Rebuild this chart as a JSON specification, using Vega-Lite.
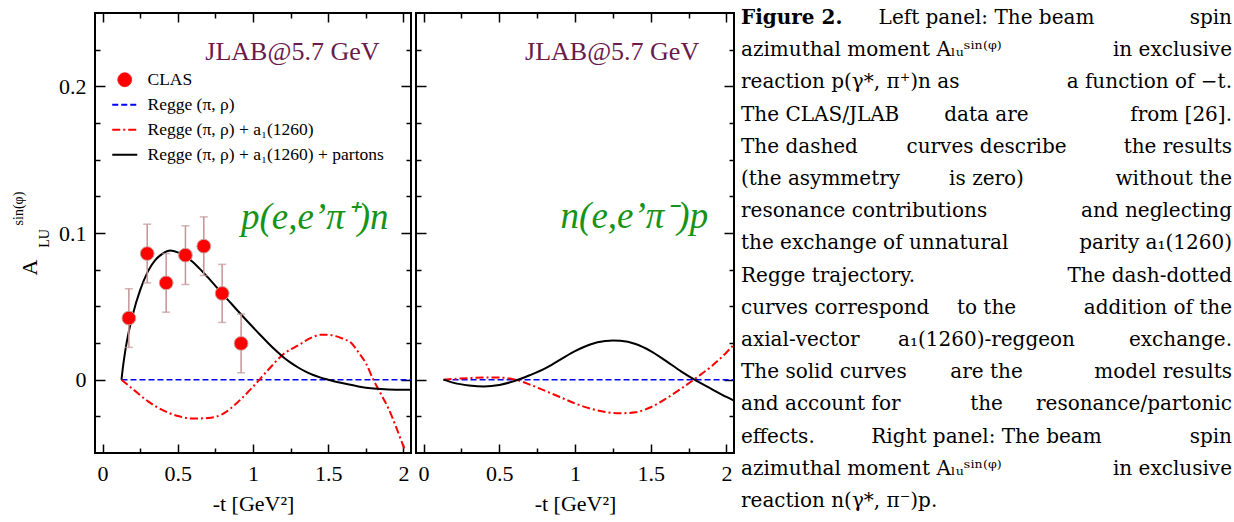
{
  "$schema": "https://vega.github.io/schema/vega-lite/v6.json",
  "background": "white",
  "padding": {"left": 10, "top": 8, "right": 0, "bottom": 0},
  "config": {
    "view": {"stroke": "black", "strokeWidth": 2},
    "axis": {"domain": false, "grid": false, "tickColor": "black", "tickWidth": 1.5, "labelFont": "Liberation Serif", "labelFontSize": 22, "labelColor": "black", "titleFont": "Liberation Serif", "titleFontSize": 22, "titleFontWeight": "normal", "titleColor": "black", "labelFlush": false, "labelOverlap": false},
    "text": {"font": "Liberation Serif"}
  },
  "datasets": {
    "left_lines": [
      {"series": "Regge (π, ρ)", "x": 0.126, "y": 0},
      {"series": "Regge (π, ρ)", "x": 2.05, "y": 0},
      {"series": "Regge (π, ρ) + a₁(1260)", "x": 0.126, "y": 0},
      {"series": "Regge (π, ρ) + a₁(1260)", "x": 0.2, "y": -0.0063},
      {"series": "Regge (π, ρ) + a₁(1260)", "x": 0.3, "y": -0.0146},
      {"series": "Regge (π, ρ) + a₁(1260)", "x": 0.4, "y": -0.0208},
      {"series": "Regge (π, ρ) + a₁(1260)", "x": 0.5, "y": -0.0248},
      {"series": "Regge (π, ρ) + a₁(1260)", "x": 0.6, "y": -0.0265},
      {"series": "Regge (π, ρ) + a₁(1260)", "x": 0.7, "y": -0.0262},
      {"series": "Regge (π, ρ) + a₁(1260)", "x": 0.8, "y": -0.0233},
      {"series": "Regge (π, ρ) + a₁(1260)", "x": 0.9, "y": -0.0152},
      {"series": "Regge (π, ρ) + a₁(1260)", "x": 1.0, "y": -0.0048},
      {"series": "Regge (π, ρ) + a₁(1260)", "x": 1.1, "y": 0.0066},
      {"series": "Regge (π, ρ) + a₁(1260)", "x": 1.2, "y": 0.0172},
      {"series": "Regge (π, ρ) + a₁(1260)", "x": 1.3, "y": 0.0234},
      {"series": "Regge (π, ρ) + a₁(1260)", "x": 1.4, "y": 0.0292},
      {"series": "Regge (π, ρ) + a₁(1260)", "x": 1.45, "y": 0.0306},
      {"series": "Regge (π, ρ) + a₁(1260)", "x": 1.5, "y": 0.0306},
      {"series": "Regge (π, ρ) + a₁(1260)", "x": 1.55, "y": 0.0297},
      {"series": "Regge (π, ρ) + a₁(1260)", "x": 1.6, "y": 0.0278},
      {"series": "Regge (π, ρ) + a₁(1260)", "x": 1.65, "y": 0.0253},
      {"series": "Regge (π, ρ) + a₁(1260)", "x": 1.7, "y": 0.0188},
      {"series": "Regge (π, ρ) + a₁(1260)", "x": 1.75, "y": 0.0112},
      {"series": "Regge (π, ρ) + a₁(1260)", "x": 1.8, "y": 0.0},
      {"series": "Regge (π, ρ) + a₁(1260)", "x": 1.85, "y": -0.0098},
      {"series": "Regge (π, ρ) + a₁(1260)", "x": 1.9, "y": -0.0196},
      {"series": "Regge (π, ρ) + a₁(1260)", "x": 1.95, "y": -0.032},
      {"series": "Regge (π, ρ) + a₁(1260)", "x": 2.0, "y": -0.0455},
      {"series": "Regge (π, ρ) + a₁(1260)", "x": 2.01, "y": -0.048},
      {"series": "Regge (π, ρ) + a₁(1260) + partons", "x": 0.126, "y": 0},
      {"series": "Regge (π, ρ) + a₁(1260) + partons", "x": 0.135, "y": 0.008},
      {"series": "Regge (π, ρ) + a₁(1260) + partons", "x": 0.15, "y": 0.019},
      {"series": "Regge (π, ρ) + a₁(1260) + partons", "x": 0.175, "y": 0.033},
      {"series": "Regge (π, ρ) + a₁(1260) + partons", "x": 0.2, "y": 0.044},
      {"series": "Regge (π, ρ) + a₁(1260) + partons", "x": 0.25, "y": 0.061},
      {"series": "Regge (π, ρ) + a₁(1260) + partons", "x": 0.3, "y": 0.0735},
      {"series": "Regge (π, ρ) + a₁(1260) + partons", "x": 0.35, "y": 0.0815},
      {"series": "Regge (π, ρ) + a₁(1260) + partons", "x": 0.4, "y": 0.086},
      {"series": "Regge (π, ρ) + a₁(1260) + partons", "x": 0.45, "y": 0.088},
      {"series": "Regge (π, ρ) + a₁(1260) + partons", "x": 0.5, "y": 0.0868},
      {"series": "Regge (π, ρ) + a₁(1260) + partons", "x": 0.55, "y": 0.0842},
      {"series": "Regge (π, ρ) + a₁(1260) + partons", "x": 0.6, "y": 0.0802},
      {"series": "Regge (π, ρ) + a₁(1260) + partons", "x": 0.65, "y": 0.0752},
      {"series": "Regge (π, ρ) + a₁(1260) + partons", "x": 0.7, "y": 0.0697},
      {"series": "Regge (π, ρ) + a₁(1260) + partons", "x": 0.75, "y": 0.064},
      {"series": "Regge (π, ρ) + a₁(1260) + partons", "x": 0.8, "y": 0.0582},
      {"series": "Regge (π, ρ) + a₁(1260) + partons", "x": 0.85, "y": 0.0525},
      {"series": "Regge (π, ρ) + a₁(1260) + partons", "x": 0.9, "y": 0.0468},
      {"series": "Regge (π, ρ) + a₁(1260) + partons", "x": 0.95, "y": 0.0412},
      {"series": "Regge (π, ρ) + a₁(1260) + partons", "x": 1.0, "y": 0.0357},
      {"series": "Regge (π, ρ) + a₁(1260) + partons", "x": 1.05, "y": 0.0303},
      {"series": "Regge (π, ρ) + a₁(1260) + partons", "x": 1.1, "y": 0.025},
      {"series": "Regge (π, ρ) + a₁(1260) + partons", "x": 1.15, "y": 0.02},
      {"series": "Regge (π, ρ) + a₁(1260) + partons", "x": 1.2, "y": 0.0155},
      {"series": "Regge (π, ρ) + a₁(1260) + partons", "x": 1.25, "y": 0.0116},
      {"series": "Regge (π, ρ) + a₁(1260) + partons", "x": 1.3, "y": 0.0083},
      {"series": "Regge (π, ρ) + a₁(1260) + partons", "x": 1.35, "y": 0.0055},
      {"series": "Regge (π, ρ) + a₁(1260) + partons", "x": 1.4, "y": 0.0032},
      {"series": "Regge (π, ρ) + a₁(1260) + partons", "x": 1.45, "y": 0.0014},
      {"series": "Regge (π, ρ) + a₁(1260) + partons", "x": 1.5, "y": 0.0},
      {"series": "Regge (π, ρ) + a₁(1260) + partons", "x": 1.6, "y": -0.0025},
      {"series": "Regge (π, ρ) + a₁(1260) + partons", "x": 1.7, "y": -0.0046},
      {"series": "Regge (π, ρ) + a₁(1260) + partons", "x": 1.8, "y": -0.006},
      {"series": "Regge (π, ρ) + a₁(1260) + partons", "x": 1.9, "y": -0.0067},
      {"series": "Regge (π, ρ) + a₁(1260) + partons", "x": 2.0, "y": -0.0069},
      {"series": "Regge (π, ρ) + a₁(1260) + partons", "x": 2.05, "y": -0.0069}
    ],
    "right_lines": [
      {"series": "Regge (π, ρ)", "x": 0.132, "y": 0},
      {"series": "Regge (π, ρ)", "x": 2.05, "y": 0},
      {"series": "Regge (π, ρ) + a₁(1260)", "x": 0.132, "y": 0},
      {"series": "Regge (π, ρ) + a₁(1260)", "x": 0.2, "y": 0.0005},
      {"series": "Regge (π, ρ) + a₁(1260)", "x": 0.3, "y": 0.0011},
      {"series": "Regge (π, ρ) + a₁(1260)", "x": 0.4, "y": 0.0015},
      {"series": "Regge (π, ρ) + a₁(1260)", "x": 0.5, "y": 0.0014},
      {"series": "Regge (π, ρ) + a₁(1260)", "x": 0.6, "y": 0.0002},
      {"series": "Regge (π, ρ) + a₁(1260)", "x": 0.7, "y": -0.0033},
      {"series": "Regge (π, ρ) + a₁(1260)", "x": 0.8, "y": -0.0075},
      {"series": "Regge (π, ρ) + a₁(1260)", "x": 0.9, "y": -0.0118},
      {"series": "Regge (π, ρ) + a₁(1260)", "x": 1.0, "y": -0.0162},
      {"series": "Regge (π, ρ) + a₁(1260)", "x": 1.1, "y": -0.0197},
      {"series": "Regge (π, ρ) + a₁(1260)", "x": 1.2, "y": -0.022},
      {"series": "Regge (π, ρ) + a₁(1260)", "x": 1.3, "y": -0.0229},
      {"series": "Regge (π, ρ) + a₁(1260)", "x": 1.4, "y": -0.0222},
      {"series": "Regge (π, ρ) + a₁(1260)", "x": 1.5, "y": -0.0188},
      {"series": "Regge (π, ρ) + a₁(1260)", "x": 1.6, "y": -0.013},
      {"series": "Regge (π, ρ) + a₁(1260)", "x": 1.7, "y": -0.0062},
      {"series": "Regge (π, ρ) + a₁(1260)", "x": 1.8, "y": 0.0012},
      {"series": "Regge (π, ρ) + a₁(1260)", "x": 1.9, "y": 0.009},
      {"series": "Regge (π, ρ) + a₁(1260)", "x": 2.0, "y": 0.0185},
      {"series": "Regge (π, ρ) + a₁(1260)", "x": 2.05, "y": 0.024},
      {"series": "Regge (π, ρ) + a₁(1260) + partons", "x": 0.132, "y": 0},
      {"series": "Regge (π, ρ) + a₁(1260) + partons", "x": 0.2, "y": -0.0022},
      {"series": "Regge (π, ρ) + a₁(1260) + partons", "x": 0.3, "y": -0.0039},
      {"series": "Regge (π, ρ) + a₁(1260) + partons", "x": 0.4, "y": -0.0046},
      {"series": "Regge (π, ρ) + a₁(1260) + partons", "x": 0.5, "y": -0.0036},
      {"series": "Regge (π, ρ) + a₁(1260) + partons", "x": 0.6, "y": -0.0009},
      {"series": "Regge (π, ρ) + a₁(1260) + partons", "x": 0.7, "y": 0.003},
      {"series": "Regge (π, ρ) + a₁(1260) + partons", "x": 0.8, "y": 0.0075},
      {"series": "Regge (π, ρ) + a₁(1260) + partons", "x": 0.9, "y": 0.0135},
      {"series": "Regge (π, ρ) + a₁(1260) + partons", "x": 1.0, "y": 0.0195},
      {"series": "Regge (π, ρ) + a₁(1260) + partons", "x": 1.1, "y": 0.024},
      {"series": "Regge (π, ρ) + a₁(1260) + partons", "x": 1.2, "y": 0.0263},
      {"series": "Regge (π, ρ) + a₁(1260) + partons", "x": 1.25, "y": 0.0267},
      {"series": "Regge (π, ρ) + a₁(1260) + partons", "x": 1.3, "y": 0.0265},
      {"series": "Regge (π, ρ) + a₁(1260) + partons", "x": 1.4, "y": 0.0243},
      {"series": "Regge (π, ρ) + a₁(1260) + partons", "x": 1.5, "y": 0.0195},
      {"series": "Regge (π, ρ) + a₁(1260) + partons", "x": 1.6, "y": 0.0128},
      {"series": "Regge (π, ρ) + a₁(1260) + partons", "x": 1.7, "y": 0.0057},
      {"series": "Regge (π, ρ) + a₁(1260) + partons", "x": 1.8, "y": -0.0006},
      {"series": "Regge (π, ρ) + a₁(1260) + partons", "x": 1.9, "y": -0.0062},
      {"series": "Regge (π, ρ) + a₁(1260) + partons", "x": 2.0, "y": -0.0118},
      {"series": "Regge (π, ρ) + a₁(1260) + partons", "x": 2.05, "y": -0.0143}
    ],
    "clas": [
      {"series": "CLAS", "x": 0.175, "y": 0.042, "err": 0.02},
      {"series": "CLAS", "x": 0.297, "y": 0.086, "err": 0.02},
      {"series": "CLAS", "x": 0.423, "y": 0.066, "err": 0.02},
      {"series": "CLAS", "x": 0.551, "y": 0.0849, "err": 0.02},
      {"series": "CLAS", "x": 0.673, "y": 0.091, "err": 0.02},
      {"series": "CLAS", "x": 0.795, "y": 0.0588, "err": 0.0198},
      {"series": "CLAS", "x": 0.921, "y": 0.0247, "err": 0.02}
    ],
    "left_notes": [
      {"kind": "beam", "text": "JLAB@5.7 GeV", "x": 1.262, "y": 0.2232},
      {"kind": "reaction", "text": "p(e,e’π⁺)n", "x": 1.41, "y": 0.1105}
    ],
    "right_notes": [
      {"kind": "beam", "text": "JLAB@5.7 GeV", "x": 1.245, "y": 0.2232},
      {"kind": "reaction", "text": "n(e,e’π⁻)p", "x": 1.392, "y": 0.111}
    ],
    "caption": [
      {"line": 0, "pos": "left", "part": "heading", "text": "Figure 2."},
      {"line": 0, "pos": "mid", "part": "body", "text": "Left panel: The beam"},
      {"line": 0, "pos": "right", "part": "body", "text": "spin"},
      {"line": 1, "pos": "left", "part": "body", "text": "azimuthal moment Aₗᵤˢⁱⁿ⁽ᵠ⁾"},
      {"line": 1, "pos": "right", "part": "body", "text": "in exclusive"},
      {"line": 2, "pos": "left", "part": "body", "text": "reaction p(γ*, π⁺)n as"},
      {"line": 2, "pos": "right", "part": "body", "text": "a function of −t."},
      {"line": 3, "pos": "left", "part": "body", "text": "The CLAS/JLAB"},
      {"line": 3, "pos": "mid", "part": "body", "text": "data are"},
      {"line": 3, "pos": "right", "part": "body", "text": "from [26]."},
      {"line": 4, "pos": "left", "part": "body", "text": "The dashed"},
      {"line": 4, "pos": "mid", "part": "body", "text": "curves describe"},
      {"line": 4, "pos": "right", "part": "body", "text": "the results"},
      {"line": 5, "pos": "left", "part": "body", "text": "(the asymmetry"},
      {"line": 5, "pos": "mid", "part": "body", "text": "is zero)"},
      {"line": 5, "pos": "right", "part": "body", "text": "without the"},
      {"line": 6, "pos": "left", "part": "body", "text": "resonance contributions"},
      {"line": 6, "pos": "right", "part": "body", "text": "and neglecting"},
      {"line": 7, "pos": "left", "part": "body", "text": "the exchange of unnatural"},
      {"line": 7, "pos": "right", "part": "body", "text": "parity a₁(1260)"},
      {"line": 8, "pos": "left", "part": "body", "text": "Regge trajectory."},
      {"line": 8, "pos": "right", "part": "body", "text": "The dash-dotted"},
      {"line": 9, "pos": "left", "part": "body", "text": "curves correspond"},
      {"line": 9, "pos": "mid", "part": "body", "text": "to the"},
      {"line": 9, "pos": "right", "part": "body", "text": "addition of the"},
      {"line": 10, "pos": "left", "part": "body", "text": "axial-vector"},
      {"line": 10, "pos": "mid", "part": "body", "text": "a₁(1260)-reggeon"},
      {"line": 10, "pos": "right", "part": "body", "text": "exchange."},
      {"line": 11, "pos": "left", "part": "body", "text": "The solid curves"},
      {"line": 11, "pos": "mid", "part": "body", "text": "are the"},
      {"line": 11, "pos": "right", "part": "body", "text": "model results"},
      {"line": 12, "pos": "left", "part": "body", "text": "and account for"},
      {"line": 12, "pos": "mid", "part": "body", "text": "the"},
      {"line": 12, "pos": "right", "part": "body", "text": "resonance/partonic"},
      {"line": 13, "pos": "left", "part": "body", "text": "effects."},
      {"line": 13, "pos": "mid", "part": "body", "text": "Right panel: The beam"},
      {"line": 13, "pos": "right", "part": "body", "text": "spin"},
      {"line": 14, "pos": "left", "part": "body", "text": "azimuthal moment Aₗᵤˢⁱⁿ⁽ᵠ⁾"},
      {"line": 14, "pos": "right", "part": "body", "text": "in exclusive"},
      {"line": 15, "pos": "left", "part": "body", "text": "reaction n(γ*, π⁻)p."}
    ]
  },
  "resolve": {"scale": {"color": "independent"}, "legend": {"color": "independent"}},
  "spacing": 2,
  "hconcat": [
    {
      "spacing": -2,
      "resolve": {"scale": {"color": "independent"}, "legend": {"color": "independent"}},
      "hconcat": [
        {
          "width": 316,
          "height": 440,
          "resolve": {"axis": {"x": "independent", "y": "independent"}},
          "layer": [
            {
              "data": {"name": "left_lines"},
              "transform": [{"filter": "datum.series === 'Regge (π, ρ)'"}],
              "mark": {"type": "line", "strokeWidth": 1.5, "strokeDash": [6, 3]},
              "encoding": {
                "x": {"field": "x", "type": "quantitative", "scale": {"domain": [-0.05, 2.05], "nice": false, "zero": false},
                  "axis": {"orient": "bottom", "values": [0, 0.25, 0.5, 0.75, 1, 1.25, 1.5, 1.75, 2], "labelExpr": "(datum.value*2)%1==0 ? format(datum.value,'~g') : ''", "tickSize": {"condition": {"test": "(datum.value*2)%1==0", "value": -9}, "value": -5}, "labelPadding": 19, "title": "-t [GeV²]", "titlePadding": 5}},
                "y": {"field": "y", "type": "quantitative", "scale": {"domain": [-0.05, 0.25], "nice": false, "zero": false},
                  "axis": {"orient": "left", "values": [-0.025, 0, 0.025, 0.05, 0.075, 0.1, 0.125, 0.15, 0.175, 0.2, 0.225], "labelExpr": "abs(datum.value*10-round(datum.value*10))<0.001 ? format(datum.value,'~g') : ''", "tickSize": {"condition": {"test": "abs(datum.value*10-round(datum.value*10))<0.001", "value": -10}, "value": -5}, "labelPadding": 19, "title": "A", "titleX": -66, "titleY": 254, "titleAngle": -90, "titleAlign": "center", "titleBaseline": "middle"}},
                "color": {"field": "series", "type": "nominal",
                  "scale": {"domain": ["CLAS", "Regge (π, ρ)", "Regge (π, ρ) + a₁(1260)", "Regge (π, ρ) + a₁(1260) + partons"], "range": ["#ff0000", "#0000ff", "#ff0000", "#000000"]},
                  "legend": {"orient": "none", "legendX": 21, "legendY": 58, "title": null, "padding": 0, "rowPadding": 6, "labelFont": "Liberation Serif", "labelFontSize": 17.5, "labelColor": "black", "labelOffset": 14, "labelLimit": 400, "symbolSize": 625, "symbolType": "stroke", "symbolStrokeWidth": 1.5,
                    "encode": {"symbols": {"update": {
                      "shape": {"signal": "datum.value === 'CLAS' ? 'circle' : 'stroke'"},
                      "size": {"signal": "datum.value === 'CLAS' ? 190 : 625"},
                      "fill": {"signal": "datum.value === 'CLAS' ? '#ff0000' : 'transparent'"},
                      "stroke": {"signal": "datum.value === 'CLAS' ? '#c9a3a3' : (datum.value === 'Regge (π, ρ)' ? '#0000ff' : (datum.value === 'Regge (π, ρ) + a₁(1260)' ? '#ff0000' : '#000000'))"},
                      "strokeDash": {"signal": "datum.value === 'Regge (π, ρ)' ? [6,3] : (datum.value === 'Regge (π, ρ) + a₁(1260)' ? [8,3,2,3] : [1,0])"},
                      "strokeWidth": {"signal": "datum.value === 'CLAS' ? 1 : 2"},
                      "opacity": {"value": 1}
                    }}}}
                }
              }
            },
            {
              "data": {"name": "left_lines"},
              "transform": [{"filter": "datum.series === 'Regge (π, ρ) + a₁(1260)'"}],
              "mark": {"type": "line", "strokeWidth": 2, "strokeDash": [8, 3, 2, 3], "interpolate": "monotone"},
              "encoding": {
                "x": {"field": "x", "type": "quantitative",
                  "axis": {"orient": "top", "values": [0, 0.25, 0.5, 0.75, 1, 1.25, 1.5, 1.75, 2], "labels": false, "title": null, "tickSize": {"condition": {"test": "(datum.value*2)%1==0", "value": -9}, "value": -5}}},
                "y": {"field": "y", "type": "quantitative",
                  "axis": {"orient": "right", "values": [-0.025, 0, 0.025, 0.05, 0.075, 0.1, 0.125, 0.15, 0.175, 0.2, 0.225], "labels": false, "title": null, "tickSize": {"condition": {"test": "abs(datum.value*10-round(datum.value*10))<0.001", "value": -10}, "value": -5}}},
                "color": {"field": "series", "type": "nominal"}
              }
            },
            {
              "data": {"name": "left_lines"},
              "transform": [{"filter": "datum.series === 'Regge (π, ρ) + a₁(1260) + partons'"}],
              "mark": {"type": "line", "strokeWidth": 2, "interpolate": "monotone"},
              "encoding": {
                "x": {"field": "x", "type": "quantitative", "axis": null},
                "y": {"field": "y", "type": "quantitative",
                  "axis": {"orient": "left", "ticks": false, "labels": false, "title": "LU", "titleFontSize": 14, "titleX": -51, "titleY": 225, "titleAngle": -90, "titleAlign": "center", "titleBaseline": "middle"}},
                "color": {"field": "series", "type": "nominal"}
              }
            },
            {
              "data": {"name": "clas"},
              "mark": {"type": "errorbar", "color": "#c39595", "thickness": 1.5, "ticks": {"size": 8}},
              "encoding": {
                "x": {"field": "x", "type": "quantitative", "axis": null},
                "y": {"field": "y", "type": "quantitative", "axis": null},
                "yError": {"field": "err"}
              }
            },
            {
              "data": {"name": "clas"},
              "mark": {"type": "point", "filled": true, "size": 190, "stroke": "#c9a3a3", "strokeWidth": 1, "opacity": 1},
              "encoding": {
                "x": {"field": "x", "type": "quantitative", "axis": null},
                "y": {"field": "y", "type": "quantitative",
                  "axis": {"orient": "left", "ticks": false, "labels": false, "title": "sin(φ)", "titleFontSize": 14, "titleX": -77, "titleY": 195, "titleAngle": -90, "titleAlign": "center", "titleBaseline": "middle"}},
                "color": {"field": "series", "type": "nominal"}
              }
            },
            {
              "data": {"name": "left_notes"},
              "transform": [{"filter": "datum.kind === 'beam'"}],
              "mark": {"type": "text", "font": "Liberation Serif", "fontSize": 26, "color": "#6a1a4c"},
              "encoding": {
                "x": {"field": "x", "type": "quantitative", "axis": null},
                "y": {"field": "y", "type": "quantitative", "axis": null},
                "text": {"field": "text"}
              }
            },
            {
              "data": {"name": "left_notes"},
              "transform": [{"filter": "datum.kind === 'reaction'"}],
              "mark": {"type": "text", "font": "Liberation Serif", "fontSize": 37, "fontStyle": "italic", "color": "#179317"},
              "encoding": {
                "x": {"field": "x", "type": "quantitative", "axis": null},
                "y": {"field": "y", "type": "quantitative", "axis": null},
                "text": {"field": "text"}
              }
            }
          ]
        },
        {
          "width": 318,
          "height": 440,
          "resolve": {"axis": {"x": "independent", "y": "independent"}},
          "layer": [
            {
              "data": {"name": "right_lines"},
              "transform": [{"filter": "datum.series === 'Regge (π, ρ)'"}],
              "mark": {"type": "line", "strokeWidth": 1.5, "strokeDash": [6, 3], "color": "#0000ff"},
              "encoding": {
                "x": {"field": "x", "type": "quantitative", "scale": {"domain": [-0.05, 2.05], "nice": false, "zero": false},
                  "axis": {"orient": "bottom", "values": [0, 0.25, 0.5, 0.75, 1, 1.25, 1.5, 1.75, 2], "labelExpr": "(datum.value*2)%1==0 ? format(datum.value,'~g') : ''", "tickSize": {"condition": {"test": "(datum.value*2)%1==0", "value": -9}, "value": -5}, "labelPadding": 19, "title": "-t [GeV²]", "titlePadding": 5}},
                "y": {"field": "y", "type": "quantitative", "scale": {"domain": [-0.05, 0.25], "nice": false, "zero": false},
                  "axis": {"orient": "left", "values": [-0.025, 0, 0.025, 0.05, 0.075, 0.1, 0.125, 0.15, 0.175, 0.2, 0.225], "labels": false, "title": null, "tickSize": {"condition": {"test": "abs(datum.value*10-round(datum.value*10))<0.001", "value": -10}, "value": -5}}}
              }
            },
            {
              "data": {"name": "right_lines"},
              "transform": [{"filter": "datum.series === 'Regge (π, ρ) + a₁(1260)'"}],
              "mark": {"type": "line", "strokeWidth": 2, "strokeDash": [8, 3, 2, 3], "interpolate": "monotone", "color": "#ff0000"},
              "encoding": {
                "x": {"field": "x", "type": "quantitative",
                  "axis": {"orient": "top", "values": [0, 0.25, 0.5, 0.75, 1, 1.25, 1.5, 1.75, 2], "labels": false, "title": null, "tickSize": {"condition": {"test": "(datum.value*2)%1==0", "value": -9}, "value": -5}}},
                "y": {"field": "y", "type": "quantitative",
                  "axis": {"orient": "right", "values": [-0.025, 0, 0.025, 0.05, 0.075, 0.1, 0.125, 0.15, 0.175, 0.2, 0.225], "labels": false, "title": null, "tickSize": {"condition": {"test": "abs(datum.value*10-round(datum.value*10))<0.001", "value": -10}, "value": -5}}}
              }
            },
            {
              "data": {"name": "right_lines"},
              "transform": [{"filter": "datum.series === 'Regge (π, ρ) + a₁(1260) + partons'"}],
              "mark": {"type": "line", "strokeWidth": 2, "interpolate": "monotone", "color": "#000000"},
              "encoding": {
                "x": {"field": "x", "type": "quantitative", "axis": null},
                "y": {"field": "y", "type": "quantitative", "axis": null}
              }
            },
            {
              "data": {"name": "right_notes"},
              "transform": [{"filter": "datum.kind === 'beam'"}],
              "mark": {"type": "text", "font": "Liberation Serif", "fontSize": 26, "color": "#6a1a4c"},
              "encoding": {
                "x": {"field": "x", "type": "quantitative", "axis": null},
                "y": {"field": "y", "type": "quantitative", "axis": null},
                "text": {"field": "text"}
              }
            },
            {
              "data": {"name": "right_notes"},
              "transform": [{"filter": "datum.kind === 'reaction'"}],
              "mark": {"type": "text", "font": "Liberation Serif", "fontSize": 37, "fontStyle": "italic", "color": "#179317"},
              "encoding": {
                "x": {"field": "x", "type": "quantitative", "axis": null},
                "y": {"field": "y", "type": "quantitative", "axis": null},
                "text": {"field": "text"}
              }
            }
          ]
        }
      ]
    },
    {
      "width": 491,
      "height": 509,
      "view": {"stroke": null},
      "data": {"name": "caption"},
      "encoding": {
        "x": {"field": "pos", "type": "nominal", "scale": {"type": "point", "domain": ["left", "mid", "right"], "padding": 0}, "axis": null},
        "y": {"field": "line", "type": "quantitative", "scale": {"domain": [-0.342, 15.466], "reverse": true, "nice": false, "zero": false}, "axis": null},
        "text": {"field": "text"}
      },
      "layer": [
        {"transform": [{"filter": "datum.part === 'heading'"}], "mark": {"type": "text", "align": "left", "baseline": "alphabetic", "font": "DejaVu Serif", "fontSize": 20, "fontWeight": "bold", "color": "black"}},
        {"transform": [{"filter": "datum.part === 'body' && datum.pos === 'left'"}], "mark": {"type": "text", "align": "left", "baseline": "alphabetic", "font": "DejaVu Serif", "fontSize": 20, "color": "black"}},
        {"transform": [{"filter": "datum.part === 'body' && datum.pos === 'mid'"}], "mark": {"type": "text", "align": "center", "baseline": "alphabetic", "font": "DejaVu Serif", "fontSize": 20, "color": "black"}},
        {"transform": [{"filter": "datum.part === 'body' && datum.pos === 'right'"}], "mark": {"type": "text", "align": "right", "baseline": "alphabetic", "font": "DejaVu Serif", "fontSize": 20, "color": "black"}}
      ]
    }
  ]
}
